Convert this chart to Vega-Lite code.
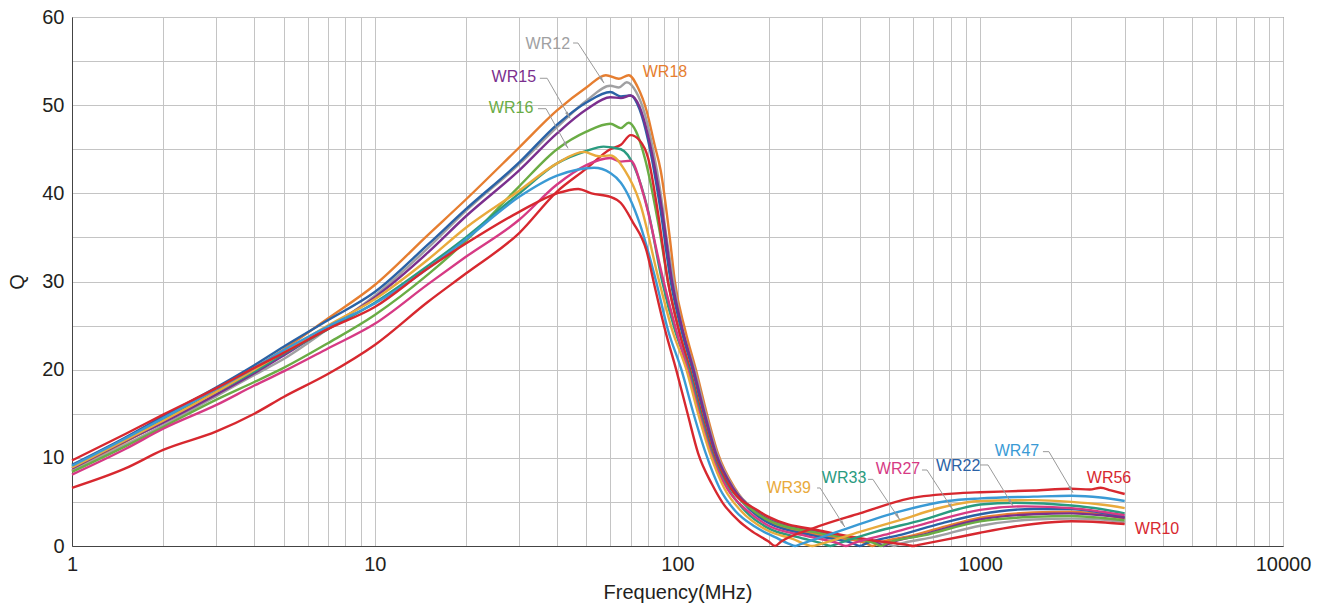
{
"$schema":"https://vega.github.io/schema/vega-lite/v6.json",
"width":1211,"height":529,
"autosize":{"type":"none"},
"padding":{"left":72,"top":17,"right":42,"bottom":61},
"background":"white",
"config":{"view":{"stroke":"#555","strokeWidth":1},
 "font":"Liberation Sans",
 "axis":{"labelFont":"Liberation Sans","titleFont":"Liberation Sans","labelColor":"#231f20","titleColor":"#231f20","gridColor":"#c4c4c4","gridWidth":1,"domainColor":"#444","ticks":false,"labelFontSize":20,"titleFontSize":20,"titleFontWeight":"normal"}},
"datasets":{
"curves":[
{"s":"WR18","f":1,"q":8.6},{"s":"WR18","f":1.5,"q":11.8},{"s":"WR18","f":2,"q":14.1},{"s":"WR18","f":3,"q":17.6},{"s":"WR18","f":4,"q":20.2},{"s":"WR18","f":5,"q":22.3},{"s":"WR18","f":7,"q":25.8},{"s":"WR18","f":10,"q":29.6},{"s":"WR18","f":15,"q":35.3},{"s":"WR18","f":20,"q":39.3},{"s":"WR18","f":30,"q":45.2},{"s":"WR18","f":40,"q":49.4},{"s":"WR18","f":50,"q":52.0},{"s":"WR18","f":58,"q":53.4},{"s":"WR18","f":64,"q":53.0},{"s":"WR18","f":69,"q":53.4},{"s":"WR18","f":74,"q":52.0},{"s":"WR18","f":79,"q":49.4},{"s":"WR18","f":84,"q":45.5},{"s":"WR18","f":88,"q":42.6},{"s":"WR18","f":94.5,"q":34.7},{"s":"WR18","f":98,"q":30},{"s":"WR18","f":106,"q":24.5},{"s":"WR18","f":115,"q":20},{"s":"WR18","f":125,"q":15},{"s":"WR18","f":136,"q":10.5},{"s":"WR18","f":155,"q":6.5},{"s":"WR18","f":178,"q":4.0},{"s":"WR18","f":200,"q":2.8},{"s":"WR18","f":300,"q":1.2},{"s":"WR18","f":420,"q":0.3},{"s":"WR18","f":440,"q":0},{"s":"WR18","f":460,"q":0.3},{"s":"WR18","f":600,"q":1.2},{"s":"WR18","f":800,"q":2.4},{"s":"WR18","f":1000,"q":3.2},{"s":"WR18","f":1500,"q":3.8},{"s":"WR18","f":2000,"q":3.9},{"s":"WR18","f":2500,"q":3.6},{"s":"WR18","f":3000,"q":3.1},

{"s":"WR12","f":1,"q":8.5},{"s":"WR12","f":1.5,"q":11.5},{"s":"WR12","f":2,"q":13.7},{"s":"WR12","f":3,"q":17.0},{"s":"WR12","f":4,"q":19.4},{"s":"WR12","f":5,"q":21.2},{"s":"WR12","f":7,"q":24.6},{"s":"WR12","f":10,"q":28.4},{"s":"WR12","f":15,"q":33.8},{"s":"WR12","f":20,"q":38.0},{"s":"WR12","f":30,"q":43.3},{"s":"WR12","f":40,"q":47.5},{"s":"WR12","f":50,"q":50.5},{"s":"WR12","f":60,"q":52.2},{"s":"WR12","f":64,"q":52.0},{"s":"WR12","f":68,"q":52.6},{"s":"WR12","f":73,"q":51.5},{"s":"WR12","f":78,"q":49},{"s":"WR12","f":83,"q":45},{"s":"WR12","f":88,"q":40},{"s":"WR12","f":92,"q":35},{"s":"WR12","f":96,"q":31},{"s":"WR12","f":104,"q":24.5},{"s":"WR12","f":114,"q":20},{"s":"WR12","f":124,"q":15},{"s":"WR12","f":135,"q":10.5},{"s":"WR12","f":154,"q":6.5},{"s":"WR12","f":182,"q":4.0},{"s":"WR12","f":200,"q":3.1},{"s":"WR12","f":300,"q":1.6},{"s":"WR12","f":400,"q":0.8},{"s":"WR12","f":500,"q":0.2},{"s":"WR12","f":520,"q":0},{"s":"WR12","f":540,"q":0.2},{"s":"WR12","f":700,"q":1.0},{"s":"WR12","f":1000,"q":2.3},{"s":"WR12","f":1500,"q":3.0},{"s":"WR12","f":2000,"q":3.1},{"s":"WR12","f":2500,"q":3.0},{"s":"WR12","f":3000,"q":2.7},

{"s":"WR22","f":1,"q":9.2},{"s":"WR22","f":1.5,"q":12.3},{"s":"WR22","f":2,"q":14.7},{"s":"WR22","f":3,"q":18.0},{"s":"WR22","f":4,"q":20.5},{"s":"WR22","f":5,"q":22.6},{"s":"WR22","f":7,"q":25.6},{"s":"WR22","f":10,"q":28.8},{"s":"WR22","f":15,"q":34.2},{"s":"WR22","f":20,"q":38.2},{"s":"WR22","f":30,"q":43.5},{"s":"WR22","f":40,"q":47.8},{"s":"WR22","f":50,"q":50.3},{"s":"WR22","f":60,"q":51.5},{"s":"WR22","f":65,"q":51.0},{"s":"WR22","f":70,"q":51.1},{"s":"WR22","f":75,"q":49.5},{"s":"WR22","f":80,"q":46},{"s":"WR22","f":88,"q":38},{"s":"WR22","f":95,"q":30},{"s":"WR22","f":103,"q":24.5},{"s":"WR22","f":112,"q":20},{"s":"WR22","f":122,"q":15},{"s":"WR22","f":133,"q":10.5},{"s":"WR22","f":152,"q":6.5},{"s":"WR22","f":175,"q":4.0},{"s":"WR22","f":200,"q":2.6},{"s":"WR22","f":280,"q":1.2},{"s":"WR22","f":380,"q":0.3},{"s":"WR22","f":400,"q":0},{"s":"WR22","f":420,"q":0.3},{"s":"WR22","f":550,"q":1.3},{"s":"WR22","f":750,"q":2.6},{"s":"WR22","f":1000,"q":3.6},{"s":"WR22","f":1500,"q":4.2},{"s":"WR22","f":2000,"q":4.2},{"s":"WR22","f":2500,"q":3.8},{"s":"WR22","f":3000,"q":3.3},

{"s":"WR15","f":1,"q":8.8},{"s":"WR15","f":1.5,"q":11.9},{"s":"WR15","f":2,"q":14.0},{"s":"WR15","f":3,"q":17.2},{"s":"WR15","f":4,"q":19.6},{"s":"WR15","f":5,"q":21.6},{"s":"WR15","f":7,"q":24.8},{"s":"WR15","f":10,"q":28.2},{"s":"WR15","f":15,"q":33.3},{"s":"WR15","f":20,"q":37.4},{"s":"WR15","f":30,"q":42.6},{"s":"WR15","f":40,"q":46.8},{"s":"WR15","f":50,"q":49.5},{"s":"WR15","f":60,"q":50.9},{"s":"WR15","f":65,"q":50.8},{"s":"WR15","f":70,"q":51.1},{"s":"WR15","f":75,"q":49.8},{"s":"WR15","f":80,"q":46.5},{"s":"WR15","f":89,"q":38},{"s":"WR15","f":96,"q":30},{"s":"WR15","f":104,"q":24.5},{"s":"WR15","f":113,"q":20},{"s":"WR15","f":123,"q":15},{"s":"WR15","f":134,"q":10.5},{"s":"WR15","f":153,"q":6.5},{"s":"WR15","f":180,"q":4.0},{"s":"WR15","f":200,"q":3.0},{"s":"WR15","f":300,"q":1.5},{"s":"WR15","f":460,"q":0.3},{"s":"WR15","f":480,"q":0},{"s":"WR15","f":500,"q":0.3},{"s":"WR15","f":650,"q":1.3},{"s":"WR15","f":1000,"q":3.0},{"s":"WR15","f":1500,"q":3.6},{"s":"WR15","f":2000,"q":3.7},{"s":"WR15","f":2500,"q":3.5},{"s":"WR15","f":3000,"q":3.2},

{"s":"WR16","f":1,"q":8.4},{"s":"WR16","f":1.5,"q":11.3},{"s":"WR16","f":2,"q":13.5},{"s":"WR16","f":3,"q":16.6},{"s":"WR16","f":4,"q":18.6},{"s":"WR16","f":5,"q":20.2},{"s":"WR16","f":7,"q":23.0},{"s":"WR16","f":10,"q":26.2},{"s":"WR16","f":15,"q":30.8},{"s":"WR16","f":20,"q":34.6},{"s":"WR16","f":30,"q":40.8},{"s":"WR16","f":40,"q":45.0},{"s":"WR16","f":50,"q":47.0},{"s":"WR16","f":60,"q":47.9},{"s":"WR16","f":65,"q":47.4},{"s":"WR16","f":69,"q":48.0},{"s":"WR16","f":73,"q":47.0},{"s":"WR16","f":78,"q":44},{"s":"WR16","f":87,"q":36},{"s":"WR16","f":93,"q":30},{"s":"WR16","f":101,"q":24.5},{"s":"WR16","f":110,"q":20},{"s":"WR16","f":120,"q":15},{"s":"WR16","f":131,"q":10.5},{"s":"WR16","f":150,"q":6.5},{"s":"WR16","f":178,"q":4.0},{"s":"WR16","f":200,"q":2.9},{"s":"WR16","f":300,"q":1.4},{"s":"WR16","f":450,"q":0.3},{"s":"WR16","f":470,"q":0},{"s":"WR16","f":490,"q":0.3},{"s":"WR16","f":650,"q":1.2},{"s":"WR16","f":1000,"q":2.8},{"s":"WR16","f":1500,"q":3.3},{"s":"WR16","f":2000,"q":3.4},{"s":"WR16","f":2500,"q":3.2},{"s":"WR16","f":3000,"q":2.9},

{"s":"WR10","f":1,"q":6.6},{"s":"WR10","f":1.5,"q":8.8},{"s":"WR10","f":2,"q":10.9},{"s":"WR10","f":3,"q":13.0},{"s":"WR10","f":4,"q":15.0},{"s":"WR10","f":5,"q":16.9},{"s":"WR10","f":7,"q":19.5},{"s":"WR10","f":10,"q":22.8},{"s":"WR10","f":15,"q":27.7},{"s":"WR10","f":20,"q":30.9},{"s":"WR10","f":30,"q":35.5},{"s":"WR10","f":40,"q":40.2},{"s":"WR10","f":50,"q":42.8},{"s":"WR10","f":60,"q":45.0},{"s":"WR10","f":65,"q":45.5},{"s":"WR10","f":70,"q":46.6},{"s":"WR10","f":75,"q":46.0},{"s":"WR10","f":80,"q":44},{"s":"WR10","f":86,"q":38},{"s":"WR10","f":93,"q":30},{"s":"WR10","f":101,"q":24.5},{"s":"WR10","f":110,"q":20},{"s":"WR10","f":120,"q":15},{"s":"WR10","f":131,"q":10.5},{"s":"WR10","f":150,"q":6.5},{"s":"WR10","f":185,"q":4.0},{"s":"WR10","f":200,"q":3.3},{"s":"WR10","f":300,"q":1.7},{"s":"WR10","f":450,"q":0.6},{"s":"WR10","f":580,"q":0.1},{"s":"WR10","f":600,"q":0},{"s":"WR10","f":620,"q":0.1},{"s":"WR10","f":860,"q":1.05},{"s":"WR10","f":1000,"q":1.5},{"s":"WR10","f":1500,"q":2.5},{"s":"WR10","f":2000,"q":2.8},{"s":"WR10","f":2500,"q":2.7},{"s":"WR10","f":3000,"q":2.5},

{"s":"WR33","f":1,"q":9.0},{"s":"WR33","f":1.5,"q":12.1},{"s":"WR33","f":2,"q":14.3},{"s":"WR33","f":3,"q":17.5},{"s":"WR33","f":4,"q":19.8},{"s":"WR33","f":5,"q":21.8},{"s":"WR33","f":7,"q":24.6},{"s":"WR33","f":10,"q":27.6},{"s":"WR33","f":15,"q":31.8},{"s":"WR33","f":20,"q":35.0},{"s":"WR33","f":30,"q":40.0},{"s":"WR33","f":40,"q":43.4},{"s":"WR33","f":50,"q":44.8},{"s":"WR33","f":57,"q":45.3},{"s":"WR33","f":65,"q":45.0},{"s":"WR33","f":72,"q":43},{"s":"WR33","f":80,"q":38},{"s":"WR33","f":89,"q":30},{"s":"WR33","f":98,"q":24.5},{"s":"WR33","f":109,"q":20},{"s":"WR33","f":119,"q":15},{"s":"WR33","f":130,"q":10.5},{"s":"WR33","f":147,"q":6.5},{"s":"WR33","f":167,"q":4.0},{"s":"WR33","f":200,"q":2.0},{"s":"WR33","f":250,"q":1.0},{"s":"WR33","f":300,"q":0.3},{"s":"WR33","f":320,"q":0},{"s":"WR33","f":340,"q":0.3},{"s":"WR33","f":450,"q":1.6},{"s":"WR33","f":650,"q":3.0},{"s":"WR33","f":850,"q":4.2},{"s":"WR33","f":1000,"q":4.7},{"s":"WR33","f":1300,"q":4.9},{"s":"WR33","f":2000,"q":4.6},{"s":"WR33","f":2500,"q":4.2},{"s":"WR33","f":3000,"q":3.7},

{"s":"WR27","f":1,"q":8.1},{"s":"WR27","f":1.5,"q":11.0},{"s":"WR27","f":2,"q":13.3},{"s":"WR27","f":3,"q":16.0},{"s":"WR27","f":4,"q":18.2},{"s":"WR27","f":5,"q":19.8},{"s":"WR27","f":7,"q":22.4},{"s":"WR27","f":10,"q":25.2},{"s":"WR27","f":15,"q":29.7},{"s":"WR27","f":20,"q":32.8},{"s":"WR27","f":30,"q":37.0},{"s":"WR27","f":40,"q":41.0},{"s":"WR27","f":50,"q":43.2},{"s":"WR27","f":60,"q":44.0},{"s":"WR27","f":65,"q":43.6},{"s":"WR27","f":70,"q":43.7},{"s":"WR27","f":77,"q":40},{"s":"WR27","f":90,"q":30},{"s":"WR27","f":99,"q":24.5},{"s":"WR27","f":108,"q":20},{"s":"WR27","f":118,"q":15},{"s":"WR27","f":129,"q":10.5},{"s":"WR27","f":146,"q":6.5},{"s":"WR27","f":170,"q":4.0},{"s":"WR27","f":200,"q":2.3},{"s":"WR27","f":270,"q":1.1},{"s":"WR27","f":340,"q":0.3},{"s":"WR27","f":360,"q":0},{"s":"WR27","f":380,"q":0.3},{"s":"WR27","f":500,"q":1.4},{"s":"WR27","f":700,"q":2.8},{"s":"WR27","f":1000,"q":4.1},{"s":"WR27","f":1400,"q":4.5},{"s":"WR27","f":2000,"q":4.3},{"s":"WR27","f":2500,"q":3.9},{"s":"WR27","f":3000,"q":3.5},

{"s":"WR39","f":1,"q":8.9},{"s":"WR39","f":1.5,"q":12.0},{"s":"WR39","f":2,"q":14.2},{"s":"WR39","f":3,"q":17.5},{"s":"WR39","f":4,"q":20.0},{"s":"WR39","f":5,"q":22.0},{"s":"WR39","f":7,"q":25.0},{"s":"WR39","f":10,"q":28.0},{"s":"WR39","f":15,"q":32.5},{"s":"WR39","f":20,"q":36.1},{"s":"WR39","f":30,"q":40.3},{"s":"WR39","f":40,"q":43.4},{"s":"WR39","f":49,"q":44.7},{"s":"WR39","f":55,"q":44.2},{"s":"WR39","f":60,"q":44.3},{"s":"WR39","f":67,"q":42.6},{"s":"WR39","f":75,"q":39},{"s":"WR39","f":87,"q":30},{"s":"WR39","f":96,"q":24.5},{"s":"WR39","f":107,"q":20},{"s":"WR39","f":117,"q":15},{"s":"WR39","f":128,"q":10.5},{"s":"WR39","f":143,"q":6.5},{"s":"WR39","f":162,"q":4.0},{"s":"WR39","f":200,"q":1.7},{"s":"WR39","f":240,"q":0.8},{"s":"WR39","f":265,"q":0.2},{"s":"WR39","f":280,"q":0},{"s":"WR39","f":295,"q":0.2},{"s":"WR39","f":400,"q":1.6},{"s":"WR39","f":550,"q":3.0},{"s":"WR39","f":750,"q":4.4},{"s":"WR39","f":1000,"q":5.1},{"s":"WR39","f":1500,"q":5.2},{"s":"WR39","f":2000,"q":5.0},{"s":"WR39","f":2500,"q":4.7},{"s":"WR39","f":3000,"q":4.3},

{"s":"WR47","f":1,"q":9.1},{"s":"WR47","f":1.5,"q":12.2},{"s":"WR47","f":2,"q":14.5},{"s":"WR47","f":3,"q":17.8},{"s":"WR47","f":4,"q":20.2},{"s":"WR47","f":5,"q":22.2},{"s":"WR47","f":7,"q":24.9},{"s":"WR47","f":10,"q":27.5},{"s":"WR47","f":15,"q":31.5},{"s":"WR47","f":20,"q":34.8},{"s":"WR47","f":30,"q":39.6},{"s":"WR47","f":40,"q":42.0},{"s":"WR47","f":47,"q":42.7},{"s":"WR47","f":53,"q":42.9},{"s":"WR47","f":60,"q":42.3},{"s":"WR47","f":65,"q":41.2},{"s":"WR47","f":75,"q":36.6},{"s":"WR47","f":85,"q":30},{"s":"WR47","f":93,"q":24.5},{"s":"WR47","f":103,"q":20},{"s":"WR47","f":113,"q":15},{"s":"WR47","f":124,"q":10.5},{"s":"WR47","f":138,"q":6.5},{"s":"WR47","f":155,"q":4.0},{"s":"WR47","f":180,"q":2.2},{"s":"WR47","f":210,"q":1.0},{"s":"WR47","f":235,"q":0.2},{"s":"WR47","f":245,"q":0},{"s":"WR47","f":255,"q":0.2},{"s":"WR47","f":350,"q":1.8},{"s":"WR47","f":540,"q":3.9},{"s":"WR47","f":780,"q":5.1},{"s":"WR47","f":1000,"q":5.4},{"s":"WR47","f":1500,"q":5.6},{"s":"WR47","f":2000,"q":5.7},{"s":"WR47","f":2500,"q":5.5},{"s":"WR47","f":3000,"q":5.1},

{"s":"WR56","f":1,"q":9.7},{"s":"WR56","f":1.5,"q":12.7},{"s":"WR56","f":2,"q":14.9},{"s":"WR56","f":3,"q":17.9},{"s":"WR56","f":4,"q":20.2},{"s":"WR56","f":5,"q":21.9},{"s":"WR56","f":7,"q":24.6},{"s":"WR56","f":10,"q":27.1},{"s":"WR56","f":15,"q":31.5},{"s":"WR56","f":20,"q":34.3},{"s":"WR56","f":30,"q":37.9},{"s":"WR56","f":40,"q":40.0},{"s":"WR56","f":47,"q":40.5},{"s":"WR56","f":52,"q":40.0},{"s":"WR56","f":60,"q":39.6},{"s":"WR56","f":65,"q":38.9},{"s":"WR56","f":71,"q":36.8},{"s":"WR56","f":79,"q":33.5},{"s":"WR56","f":84,"q":29.5},{"s":"WR56","f":91,"q":24.5},{"s":"WR56","f":99,"q":20},{"s":"WR56","f":108,"q":15},{"s":"WR56","f":117,"q":10.5},{"s":"WR56","f":130,"q":7.0},{"s":"WR56","f":141,"q":4.9},{"s":"WR56","f":160,"q":2.8},{"s":"WR56","f":174,"q":1.8},{"s":"WR56","f":200,"q":0.5},{"s":"WR56","f":210,"q":0},{"s":"WR56","f":220,"q":0.5},{"s":"WR56","f":280,"q":2.0},{"s":"WR56","f":400,"q":3.7},{"s":"WR56","f":585,"q":5.4},{"s":"WR56","f":860,"q":6.0},{"s":"WR56","f":1000,"q":6.1},{"s":"WR56","f":1500,"q":6.3},{"s":"WR56","f":2000,"q":6.5},{"s":"WR56","f":2300,"q":6.4},{"s":"WR56","f":2500,"q":6.6},{"s":"WR56","f":2700,"q":6.3},{"s":"WR56","f":3000,"q":5.9}
],
"labels":[
{"s":"WR12","f":37.3,"q":56.9},{"s":"WR18","f":90.9,"q":53.8},{"s":"WR15","f":28.8,"q":53.2},{"s":"WR16","f":28.2,"q":49.7},{"s":"WR39","f":233,"q":6.6},{"s":"WR33","f":355,"q":7.7},{"s":"WR27","f":535,"q":8.7},{"s":"WR22","f":845,"q":9.1},{"s":"WR47","f":1322,"q":10.8},{"s":"WR56","f":2663,"q":7.7},{"s":"WR10","f":3836,"q":1.9}
],
"leaders":[
{"s":"WR12","f":45.2,"q":57.05,"f2":46.9,"q2":57.05},{"s":"WR12","f":46.9,"q":57.05,"f2":57.2,"q2":52.5},
{"s":"WR15","f":35.1,"q":53.05,"f2":37.1,"q2":53.05},{"s":"WR15","f":37.1,"q":53.05,"f2":44.2,"q2":48.5},
{"s":"WR16","f":34.6,"q":49.6,"f2":36.8,"q2":49.6},{"s":"WR16","f":36.8,"q":49.6,"f2":43.5,"q2":45.1},
{"s":"WR39","f":289,"q":6.58,"f2":296,"q2":6.58},{"s":"WR39","f":296,"q":6.58,"f2":357,"q2":2.15},
{"s":"WR33","f":426,"q":7.56,"f2":442,"q2":7.56},{"s":"WR33","f":442,"q":7.56,"f2":543,"q2":2.95},
{"s":"WR27","f":642,"q":8.62,"f2":667,"q2":8.62},{"s":"WR27","f":667,"q":8.62,"f2":813,"q2":4.08},
{"s":"WR22","f":998,"q":9.19,"f2":1061,"q2":9.19},{"s":"WR22","f":1061,"q":9.19,"f2":1283,"q2":4.54},
{"s":"WR47","f":1611,"q":10.7,"f2":1686,"q2":10.7},{"s":"WR47","f":1686,"q":10.7,"f2":2025,"q2":6.05}
],
"tips":[
{"s":"WR12","f":57.2,"q":52.5},{"s":"WR15","f":44.2,"q":48.5},{"s":"WR16","f":43.5,"q":45.1},{"s":"WR39","f":357,"q":2.15},{"s":"WR33","f":543,"q":2.95},{"s":"WR27","f":813,"q":4.08},{"s":"WR22","f":1283,"q":4.54},{"s":"WR47","f":2025,"q":6.05}
]
},
"encoding":{
  "x":{"field":"f","type":"quantitative","title":"Frequency(MHz)",
   "scale":{"type":"log","domain":[1,10000]},
   "axis":{"values":[1,2,3,4,5,6,7,8,9,10,20,30,40,50,60,70,80,90,100,200,300,400,500,600,700,800,900,1000,2000,3000,4000,5000,6000,7000,8000,9000,10000],
    "labelExpr":"(datum.value==1||datum.value==10||datum.value==100||datum.value==1000||datum.value==10000) ? format(datum.value,'d') : ''",
    "labelOverlap":false,"labelFlush":false,"labelPadding":8,"titlePadding":8,"grid":true}},
  "y":{"field":"q","type":"quantitative","title":"Q",
   "scale":{"domain":[0,60],"nice":false},
   "axis":{"values":[0,5,10,15,20,25,30,35,40,45,50,55,60],
    "labelExpr":"datum.value % 10 == 0 ? format(datum.value,'d') : ''",
    "labelOverlap":false,"labelFlush":false,"labelPadding":8,"titlePadding":14,"grid":true}}
},
"layer":[
{"data":{"name":"curves"},
 "mark":{"type":"line","interpolate":"monotone","strokeWidth":2.4},
 "encoding":{
  "color":{"field":"s","type":"nominal","legend":null,
   "scale":{"domain":["WR10","WR12","WR15","WR16","WR18","WR22","WR27","WR33","WR39","WR47","WR56"],
    "range":["#d7282f","#a0a0a2","#7b2f8e","#6aac45","#e67e30","#2a62a6","#d63a84","#2a9b80","#e9aa3c","#3a9ad5","#d7282f"]}}
 }},
{"data":{"name":"leaders"},
 "mark":{"type":"rule","color":"#9a9a9a","strokeWidth":1},
 "encoding":{"x2":{"field":"f2"},"y2":{"field":"q2"}}},
{"data":{"name":"tips"},
 "mark":{"type":"point","shape":"M0,0L0.5,2.4L-0.5,2.4Z","filled":true,"color":"#9a9a9a","opacity":1,"size":36,"angle":148},
 "encoding":{}},
{"data":{"name":"labels"},
 "mark":{"type":"text","fontSize":16,"font":"Liberation Sans","align":"center","baseline":"middle"},
 "encoding":{
  "text":{"field":"s"},
  "color":{"field":"s","type":"nominal","legend":null}}}
]
}
